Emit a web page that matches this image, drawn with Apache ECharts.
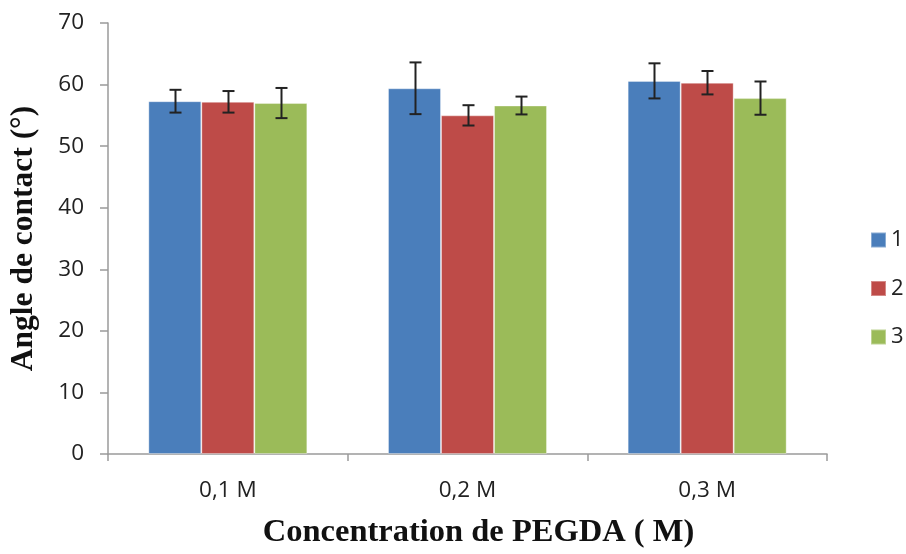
<!DOCTYPE html>
<html><head><meta charset="utf-8">
<script src="https://cdn.jsdelivr.net/npm/echarts@6/dist/echarts.min.js"></script>
<style>html,body{margin:0;padding:0;background:#fff}#c{width:906px;height:554px}</style>
</head><body><div id="c"></div>
<script>
var categories = ['0,1 M', '0,2 M', '0,3 M'];
var seriesNames = ['1', '2', '3'];
var values1 = [57.3, 59.4, 60.6];
var values2 = [57.2, 55.0, 60.3];
var values3 = [57.0, 56.6, 57.8];
var errors1 = [1.85, 4.2, 2.85];
var errors2 = [1.75, 1.65, 1.9];
var errors3 = [2.45, 1.45, 2.7];
var colors = ['#4A7EBB', '#BE4B48', '#9BBB59'];
var yTicks = [0, 10, 20, 30, 40, 50, 60, 70];

var vals = [values1, values2, values3];
var errs = [errors1, errors2, errors3];
var BAR_W = 53;

var chart = echarts.init(document.getElementById('c'), null, {renderer: 'canvas'});
var series = [];
vals.forEach(function (v, i) {
  series.push({
    name: seriesNames[i], type: 'bar', data: v, barWidth: BAR_W, barGap: '0%',
    itemStyle: {color: colors[i], borderColor: 'rgba(255,255,255,0.35)', borderWidth: 1}
  });
});
vals.forEach(function (v, i) {
  var data = v.map(function (val, k) { return [k, val - errs[i][k], val + errs[i][k]]; });
  series.push({
    type: 'custom', data: data, z: 10, silent: true,
    renderItem: function (params, api) {
      var x = api.value(0);
      var lo = api.coord([x, api.value(1)]);
      var hi = api.coord([x, api.value(2)]);
      var cx = Math.round(lo[0] + (i - 1) * BAR_W) + 0.5;
      var cap = 6;
      var st = {stroke: '#222', lineWidth: 2};
      return {type: 'group', children: [
        {type: 'line', shape: {x1: cx, y1: hi[1], x2: cx, y2: lo[1]}, style: st},
        {type: 'line', shape: {x1: cx - cap, y1: hi[1], x2: cx + cap, y2: hi[1]}, style: st},
        {type: 'line', shape: {x1: cx - cap, y1: lo[1], x2: cx + cap, y2: lo[1]}, style: st}
      ]};
    }
  });
});

chart.setOption({
  animation: false,
  backgroundColor: '#fff',
  grid: {left: 107, right: 79, top: 23, bottom: 98},
  legend: {
    orient: 'vertical', left: 870, top: 229, itemGap: 26.5, padding: 0,
    itemWidth: 15, itemHeight: 15, icon: 'rect',
    data: seriesNames,
    textStyle: {fontFamily: 'Open Sans', fontSize: 22, color: '#222'}
  },
  xAxis: {
    type: 'category', data: categories,
    axisLine: {lineStyle: {color: '#9a9a9a', width: 1.5}},
    axisTick: {show: true, length: 7, inside: false, lineStyle: {color: '#9a9a9a', width: 1.5}},
    axisLabel: {fontFamily: 'Open Sans', fontSize: 22.5, color: '#222', margin: 25},
    name: 'Concentration de PEGDA ( M)', nameLocation: 'middle', nameGap: 62,
    nameTextStyle: {fontFamily: 'Liberation Serif', fontWeight: 'bold', fontSize: 32.5, color: '#111',
      padding: [0, 0, 0, 22]}
  },
  yAxis: {
    type: 'value', min: 0, max: 70, interval: 10,
    axisLine: {show: true, lineStyle: {color: '#9a9a9a', width: 1.5}},
    axisTick: {show: true, length: 8, lineStyle: {color: '#9a9a9a', width: 1.5}},
    splitLine: {show: false},
    axisLabel: {fontFamily: 'Open Sans', fontSize: 22.5, color: '#222', margin: 24,
      formatter: function (v) { return yTicks.indexOf(v) >= 0 ? String(v) : ''; }},
    name: 'Angle de contact (°)', nameLocation: 'middle', nameGap: 68, nameRotate: 90,
    nameTextStyle: {fontFamily: 'Liberation Serif', fontWeight: 'bold', fontSize: 31.5, color: '#111'}
  },
  series: series
});
</script></body></html>
